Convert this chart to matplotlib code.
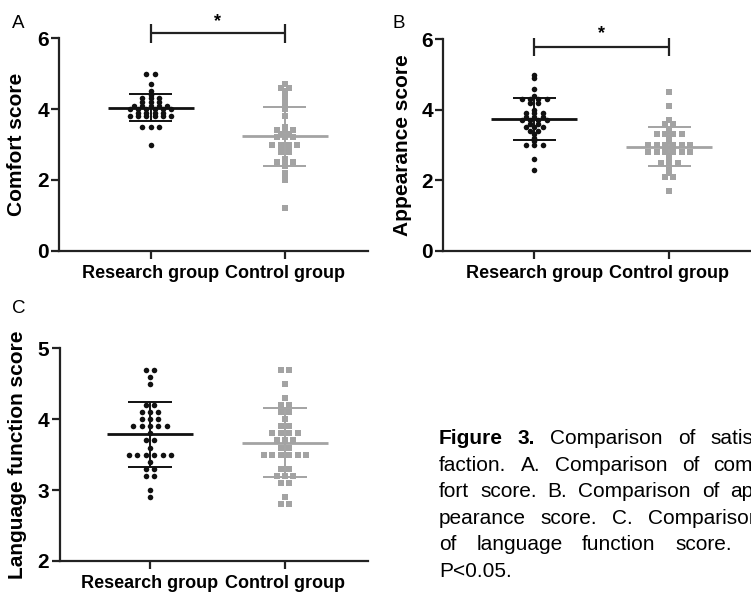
import numpy as np
import matplotlib
matplotlib.use("Agg")
import matplotlib.pyplot as plt

plt.rcParams['font.family'] = ['Liberation Sans', 'DejaVu Sans']

groups = ["Research group", "Control group"]

# Panel A: comfort score
comfort_research = [5.0, 5.0, 4.7, 4.5, 4.4, 4.3, 4.3, 4.3, 4.2, 4.2, 4.2,
                    4.1, 4.1, 4.1, 4.1, 4.1, 4.0, 4.0, 4.0, 4.0, 4.0, 4.0,
                    3.9, 3.9, 3.9, 3.9, 3.8, 3.8, 3.8, 3.8, 3.8, 3.8,
                    3.5, 3.5, 3.5, 3.0]
comfort_control = [4.7, 4.6, 4.6, 4.5, 4.4, 4.3, 4.2, 4.1, 4.0, 3.8, 3.5,
                   3.4, 3.4, 3.4, 3.3, 3.3, 3.2, 3.2, 3.2, 3.0, 3.0, 3.0, 3.0,
                   2.9, 2.9, 2.8, 2.8, 2.6, 2.5, 2.5, 2.5, 2.4, 2.2, 2.1, 2.0, 1.2]

# Panel B: appearance score
appearance_research = [5.0, 4.9, 4.6, 4.4, 4.3, 4.3, 4.3, 4.3, 4.2, 4.2, 4.0,
                       3.9, 3.9, 3.9, 3.8, 3.8, 3.8, 3.7, 3.7, 3.7, 3.7,
                       3.6, 3.6, 3.5, 3.5, 3.5, 3.4, 3.4, 3.3, 3.2, 3.1,
                       3.0, 3.0, 3.0, 2.6, 2.3]
appearance_control = [4.5, 4.1, 3.7, 3.6, 3.6, 3.4, 3.3, 3.3, 3.3, 3.3, 3.2,
                      3.1, 3.0, 3.0, 3.0, 3.0, 3.0, 3.0, 2.9, 2.9,
                      2.8, 2.8, 2.8, 2.8, 2.8, 2.8, 2.7, 2.6, 2.5, 2.5, 2.5,
                      2.3, 2.2, 2.1, 2.1, 1.7]

# Panel C: language function score
language_research = [4.7, 4.7, 4.6, 4.5, 4.2, 4.2, 4.1, 4.1, 4.1, 4.0, 4.0, 4.0,
                     3.9, 3.9, 3.9, 3.9, 3.9, 3.8, 3.7, 3.7, 3.6,
                     3.5, 3.5, 3.5, 3.5, 3.5, 3.5, 3.4, 3.3, 3.3, 3.2, 3.2,
                     3.0, 2.9]
language_control = [4.7, 4.7, 4.5, 4.3, 4.2, 4.2, 4.1, 4.1, 4.0, 3.9, 3.9,
                    3.8, 3.8, 3.8, 3.8, 3.7, 3.7, 3.7, 3.6, 3.6,
                    3.5, 3.5, 3.5, 3.5, 3.5, 3.5, 3.3, 3.3, 3.2, 3.2, 3.2,
                    3.1, 3.1, 2.9, 2.8, 2.8]

panel_letters = ["A", "B", "C"]
ylabels = ["Comfort score", "Appearance score", "Language function score"]
yticks_list = [[0, 2, 4, 6], [0, 2, 4, 6], [2, 3, 4, 5]]
sig_marks = ["*", "*", None]

BLACK = "#111111"
GRAY = "#a3a3a3"

W, H = 751, 593
fig = plt.figure(figsize=(W / 100, H / 100), dpi=100)


def ax_at(l, t, r, b):
    return fig.add_axes([l / W, 1 - b / H, (r - l) / W, (b - t) / H])


def swarm(ax, x0, vals, color, marker, size):
    vals = np.asarray(vals)
    uniq, counts = np.unique(vals, return_counts=True)
    xs, ys = [], []
    for u, k in zip(uniq, counts):
        offs = (np.arange(k) - (k - 1) / 2) * 0.062
        xs.extend(x0 + offs)
        ys.extend([u] * k)
    ax.scatter(xs, ys, s=size, c=color, marker=marker, linewidths=0,
               zorder=3, clip_on=False)
    m, sd = vals.mean(), vals.std(ddof=1)
    ax.hlines(m, x0 - 0.32, x0 + 0.32, color=color, lw=2.0, zorder=4)
    ax.hlines([m - sd, m + sd], x0 - 0.16, x0 + 0.16, color=color, lw=1.4, zorder=4)
    ax.vlines(x0, m - sd, m + sd, color=color, lw=1.4, zorder=4)


boxes = [(59.3, 38.3, 368, 250.7, (-0.68, 1.618)),
         (443.3, 39.3, 750, 250.7, (-0.674, 1.598)),
         (59.7, 348.3, 368, 561, (-0.669, 1.615))]
data = [(comfort_research, comfort_control),
        (appearance_research, appearance_control),
        (language_research, language_control)]
bracket = [(6.14, 6.46), (5.79, 6.15), None]
letter_pos = [(12, 28), (393, 28), (12, 313)]
ylab_right = [26, 412, 27]

for i, (box, (r, c)) in enumerate(zip(boxes, data)):
    l, t, rr, b, xl = box
    ax = ax_at(l, t, rr, b)
    yt = yticks_list[i]
    ax.set_ylim(yt[0], yt[-1])
    ax.set_xlim(*xl)
    swarm(ax, 0, r, BLACK, "o", 16)
    swarm(ax, 1, c, GRAY, "s", 15)
    ax.set_xticks([0, 1])
    ax.set_xticklabels(groups, fontsize=13, fontweight="bold")
    ax.set_yticks(yt)
    ax.set_yticklabels([str(v) for v in yt], fontsize=15, fontweight="bold")
    for s in ["top", "right"]:
        ax.spines[s].set_visible(False)
    for s in ["left", "bottom"]:
        ax.spines[s].set_linewidth(1.6)
        ax.spines[s].set_color("#222222")
    ax.tick_params(axis="both", length=6, width=1.6, color="#222222")
    ax.tick_params(axis="y", pad=1.5)
    ax.tick_params(axis="x", pad=4)
    ax.set_ylabel(ylabels[i], fontsize=15, fontweight="bold")
    ax.yaxis.set_label_coords((ylab_right[i] - l) / (rr - l), 0.5)
    if bracket[i] is not None:
        yl, ys = bracket[i]
        ax.hlines(yl, 0, 1, color="#222222", lw=1.6, clip_on=False)
        ax.vlines([0, 1], yl - 0.26, yl + 0.26, color="#222222", lw=1.6, clip_on=False)
        ax.text(0.5, ys, sig_marks[i], ha="center", va="center", fontsize=13,
                fontweight="bold", clip_on=False)
    lx, ly = letter_pos[i]
    fig.text(lx / W, 1 - ly / H, panel_letters[i], fontsize=13.5, va="baseline")

# caption (justified text, cut at right edge as in the source)
cap_lines = [
    [("Figure", True), ("3.", True), ("Comparison", False), ("of", False), ("satis-", False)],
    [("faction.", False), ("A.", False), ("Comparison", False), ("of", False), ("com-", False)],
    [("fort", False), ("score.", False), ("B.", False), ("Comparison", False), ("of", False), ("ap-", False)],
    [("pearance", False), ("score.", False), ("C.", False), ("Comparison", False)],
    [("of", False), ("language", False), ("function", False), ("score.", False), ("*", False)],
    [("P<0.05.", False)],
]
cap_left, cap_right = 439, 760
base0, lead = 444.3, 26.5
cap_fs = 15
renderer = fig.canvas.get_renderer()
for li, words in enumerate(cap_lines):
    yb = 1 - (base0 + li * lead) / H
    texts = []
    widths = []
    for w, bold in words:
        tt = fig.text(0, yb, w, fontsize=cap_fs, va="baseline",
                      fontweight="bold" if bold else "normal")
        texts.append(tt)
        widths.append(tt.get_window_extent(renderer).width)
    if li == len(cap_lines) - 1 or len(words) == 1:
        gap = 5.0
    else:
        gap = (cap_right - cap_left - sum(widths)) / (len(words) - 1)
    x = cap_left
    for tt, wd in zip(texts, widths):
        tt.set_x(x / W)
        x += wd + gap

fig.savefig("out.png", dpi=100)
